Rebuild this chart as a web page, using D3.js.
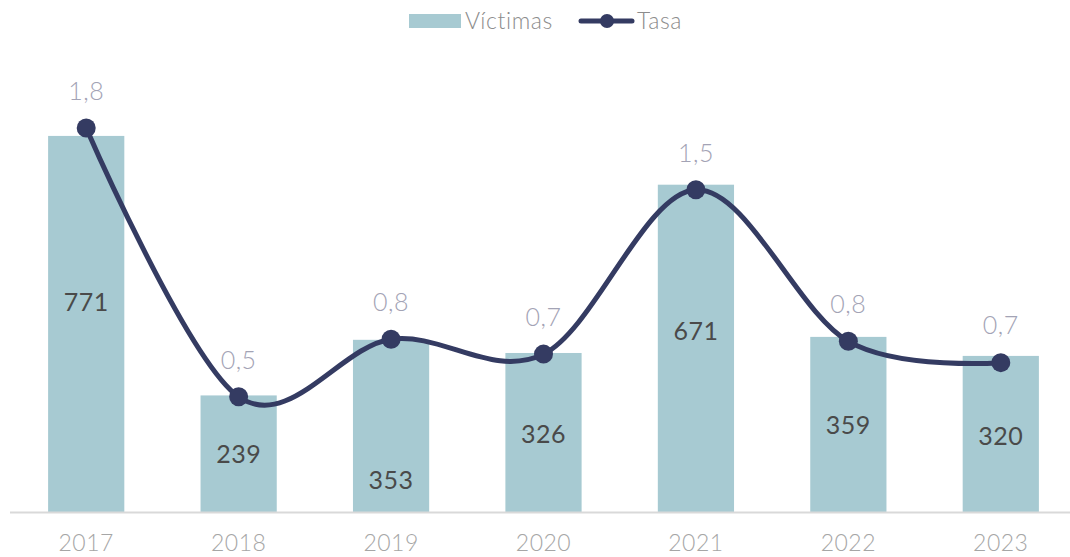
<!DOCTYPE html>
<html>
<head>
<meta charset="utf-8">
<script src="https://cdn.jsdelivr.net/npm/d3@7"></script>
<style>
  html, body { margin: 0; padding: 0; background: #ffffff; }
  svg { display: block; }
</style>
</head>
<body>
<svg id="chart" width="1070" height="557"></svg>
<script>
// Victims per year (bars) and rate (line)
const years = ["2017", "2018", "2019", "2020", "2021", "2022", "2023"];
const victimas = [771, 239, 353, 326, 671, 359, 320];
const tasa = [1.80, 0.54, 0.81, 0.74, 1.51, 0.80, 0.70];

// Vertical nudge of the value labels inside the bars (px from bar middle)
const barLabelShift = [-22, 1, 54, 2, -17, 1, 2];

const baseY = 512;

const svg = d3.select("#chart");

const x = d3.scaleBand().domain(years).range([10, 1077]).paddingInner(0.5).paddingOuter(0.25);
const yBar = d3.scaleLinear().domain([0, 900]).range([baseY, 73]);
const yRate = d3.scaleLinear().domain([0, 2]).range([baseY, 85.3]);

const fmtRate = v => d3.format(".1f")(v).replace(".", ",");
const numFont = "Lato, 'Open Sans', sans-serif";

// Bars
svg.append("g").selectAll("rect")
  .data(victimas)
  .join("rect")
  .attr("x", (d, i) => x(years[i]))
  .attr("y", d => yBar(d))
  .attr("width", x.bandwidth())
  .attr("height", d => baseY - yBar(d))
  .attr("fill", "#a7cad2");

// Category axis
const xAxis = svg.append("g")
  .attr("transform", `translate(0,${baseY})`)
  .call(d3.axisBottom(x).tickSize(0).tickPadding(23));
xAxis.select(".domain").remove();
xAxis.append("line")
  .attr("x1", 10).attr("x2", 1070).attr("y1", 0.5).attr("y2", 0.5)
  .attr("stroke", "#d9d9d9").attr("stroke-width", 2);
xAxis.selectAll(".tick text")
  .attr("font-family", numFont)
  .attr("font-weight", 300)
  .attr("font-size", 23)
  .attr("letter-spacing", 0.5)
  .attr("fill", "#a6a6a6");

// Value labels inside bars
svg.append("g").selectAll("text")
  .data(victimas)
  .join("text")
  .attr("x", (d, i) => x(years[i]) + x.bandwidth() / 2)
  .attr("y", (d, i) => (yBar(d) + baseY) / 2 + barLabelShift[i])
  .attr("dy", "0.35em")
  .attr("text-anchor", "middle")
  .attr("font-family", numFont)
  .attr("font-size", 25)
  .attr("letter-spacing", 0.5)
  .attr("fill", "#4a4a4a")
  .text(d => d);

// Rate line
const cx = (d, i) => x(years[i]) + x.bandwidth() / 2;
const line = d3.line()
  .x(cx)
  .y(d => yRate(d))
  .curve(d3.curveCatmullRom.alpha(0));

svg.append("path")
  .datum(tasa)
  .attr("d", line)
  .attr("fill", "none")
  .attr("stroke", "#343b62")
  .attr("stroke-width", 5)
  .attr("stroke-linecap", "round");

svg.append("g").selectAll("circle")
  .data(tasa)
  .join("circle")
  .attr("cx", cx)
  .attr("cy", d => yRate(d))
  .attr("r", 9.5)
  .attr("fill", "#343b62");

// Rate labels
svg.append("g").selectAll("text")
  .data(tasa)
  .join("text")
  .attr("x", cx)
  .attr("y", d => yRate(d) - 37)
  .attr("dy", "0.35em")
  .attr("text-anchor", "middle")
  .attr("font-family", numFont)
  .attr("font-weight", 300)
  .attr("font-size", 25)
  .attr("letter-spacing", 0.5)
  .attr("fill", "#a3a3b5")
  .text(fmtRate);

// Legend
const legend = svg.append("g");
const legFont = "Lato, 'Open Sans', sans-serif";
legend.append("rect")
  .attr("x", 409).attr("y", 14).attr("width", 52).attr("height", 14)
  .attr("fill", "#a7cad2");
legend.append("text")
  .attr("x", 465).attr("y", 21).attr("dy", "0.35em")
  .attr("font-family", legFont).attr("font-weight", 300)
  .attr("font-size", 23).attr("letter-spacing", 0.6).attr("fill", "#8c8c8c")
  .text("Víctimas");
legend.append("line")
  .attr("x1", 581).attr("x2", 632).attr("y1", 21).attr("y2", 21)
  .attr("stroke", "#343b62").attr("stroke-width", 5).attr("stroke-linecap", "round");
legend.append("circle")
  .attr("cx", 607).attr("cy", 21).attr("r", 7)
  .attr("fill", "#343b62");
legend.append("text")
  .attr("x", 637).attr("y", 21).attr("dy", "0.35em")
  .attr("font-family", legFont).attr("font-weight", 300)
  .attr("font-size", 23).attr("letter-spacing", 0.6).attr("fill", "#8c8c8c")
  .text("Tasa");
</script>
</body>
</html>
